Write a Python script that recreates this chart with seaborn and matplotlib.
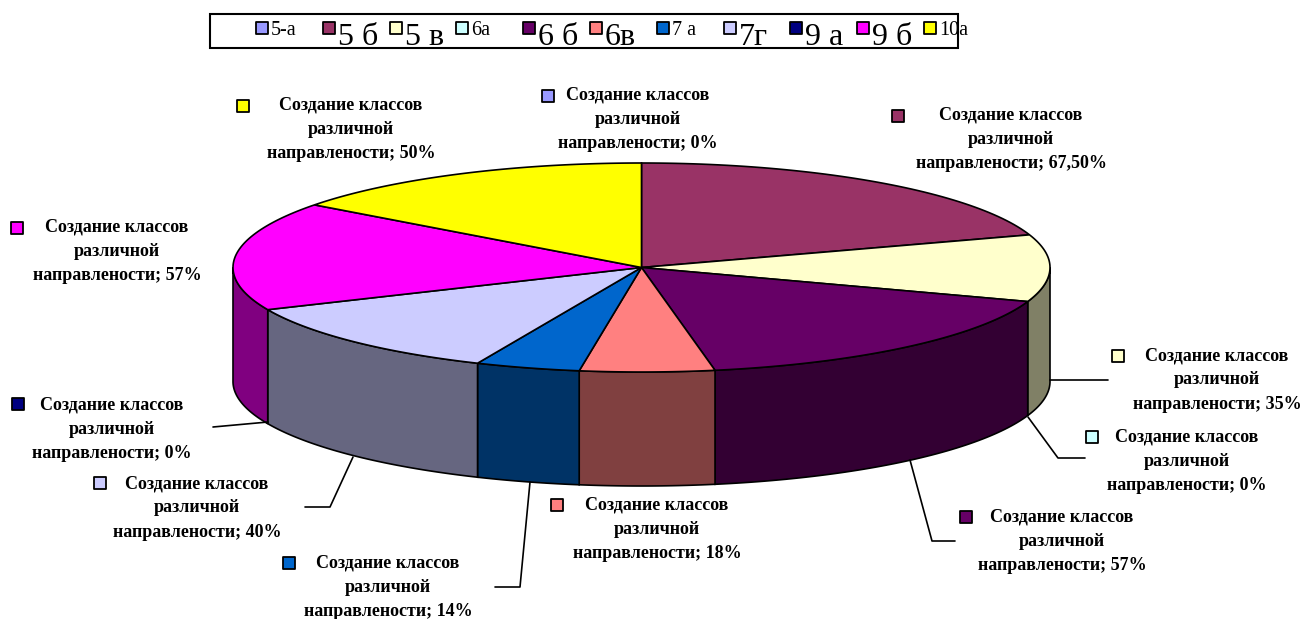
import numpy as np
import matplotlib.pyplot as plt
import seaborn as sns
from matplotlib.patches import Polygon, Rectangle

classes = ["5-а", "5 б", "5 в", "6а", "6 б", "6в", "7 а", "7г", "9 а", "9 б", "10а"]
shares = [0, 67.5, 35, 0, 57, 18, 14, 40, 0, 57, 50]
colors = ["#9999FF", "#993366", "#FFFFCC", "#CCFFFF", "#660066", "#FF8080",
          "#0066CC", "#CCCCFF", "#000080", "#FF00FF", "#FFFF00"]
label_title = "Создание классов\nразличной\nнаправлености"

# the source legend mixes text sizes
legend_big = [False, True, True, False, True, True, False, True, True, True, False]

# label layout in pixels: text centre x, middle line y, key x, key y
label_pos = {
    "5-а": (638, 119, 548, 96),
    "5 б": (1011, 139, 898, 116),
    "5 в": (1217, 380, 1118, 356),
    "6а": (1187, 461, 1092, 437),
    "6 б": (1062, 541, 966, 517),
    "6в": (657, 529, 557, 505),
    "7 а": (388, 587, 289, 563),
    "7г": (197, 508, 100, 483),
    "9 а": (112, 429, 18, 404),
    "9 б": (117, 251, 17, 228),
    "10а": (351, 129, 243, 106),
}
leaders = {
    "5 в": [(1050, 380), (1108, 380)],
    "6а": [(1028, 417), (1058, 458), (1085, 458)],
    "6 б": [(910, 460), (932, 541), (955, 541)],
    "7 а": [(530, 482), (520, 587), (495, 587)],
    "7г": [(353, 457), (330, 507), (305, 507)],
    "9 а": [(268, 422), (213, 427)],
}

sns.set_theme(style="white")
plt.rcParams["font.family"] = ["Liberation Serif", "DejaVu Serif"]

fig = plt.figure(figsize=(13.06, 6.19), dpi=100)
ax = fig.add_axes([0, 0, 1, 1])
ax.set_xlim(0, 1306)
ax.set_ylim(619, 0)
ax.axis("off")

cx, cy, a, b, depth = 641.5, 267.5, 408.5, 104.5, 114
pal = sns.color_palette(colors)

vals = np.array(shares, dtype=float)
ends = np.cumsum(vals) / vals.sum() * 360
starts = ends - vals / vals.sum() * 360


def rim(t0, t1, dy=0.0, n=60):
    t = np.radians(np.linspace(t0, t1, n))
    return np.column_stack([cx + a * np.sin(t), cy - b * np.cos(t) + dy])


# side walls, only the front half is visible
for s, e, c in zip(starts, ends, pal):
    lo, hi = max(s, 90), min(e, 270)
    if hi <= lo:
        continue
    top = rim(lo, hi)
    bot = rim(hi, lo, depth)
    dark = tuple(np.array(c) * 0.5)
    ax.add_patch(Polygon(np.vstack([top, bot]), closed=True, fc=dark,
                         ec="black", lw=1.2))

# top faces
for s, e, c in zip(starts, ends, pal):
    if e - s <= 0:
        continue
    pts = np.vstack([[cx, cy], rim(s, e)])
    ax.add_patch(Polygon(pts, closed=True, fc=c, ec="black", lw=1.2))

# data labels
for name, v, c in zip(classes, shares, pal):
    tx, ty, kx, ky = label_pos[name]
    pct = f"{int(v)}%" if float(v).is_integer() else f"{v:.2f}".replace(".", ",") + "%"
    ax.text(tx, ty, f"{label_title}; {pct}", ha="center", va="center",
            fontsize=13, fontweight="bold", linespacing=1.55, color="black")
    ax.scatter([kx], [ky], marker="s", s=70, color=c, edgecolor="black",
               linewidth=1.3, zorder=5)
    if name in leaders:
        xs, ys = zip(*leaders[name])
        ax.plot(xs, ys, color="black", lw=1.2)

# legend box with fixed pitch entries, as in the source
ax.add_patch(Rectangle((210, 14), 748, 34, fill=False, ec="black", lw=1.5))
for i, (name, c, big) in enumerate(zip(classes, pal, legend_big)):
    hx = 262 + i * 66.8
    ax.scatter([hx], [28], marker="s", s=75, color=c, edgecolor="black",
               linewidth=1.3, zorder=5)
    ax.text(hx + 9, 45 if big else 35, name, ha="left", va="baseline",
            fontsize=23 if big else 14.5, color="black")

fig.savefig("out.png", dpi=100)
